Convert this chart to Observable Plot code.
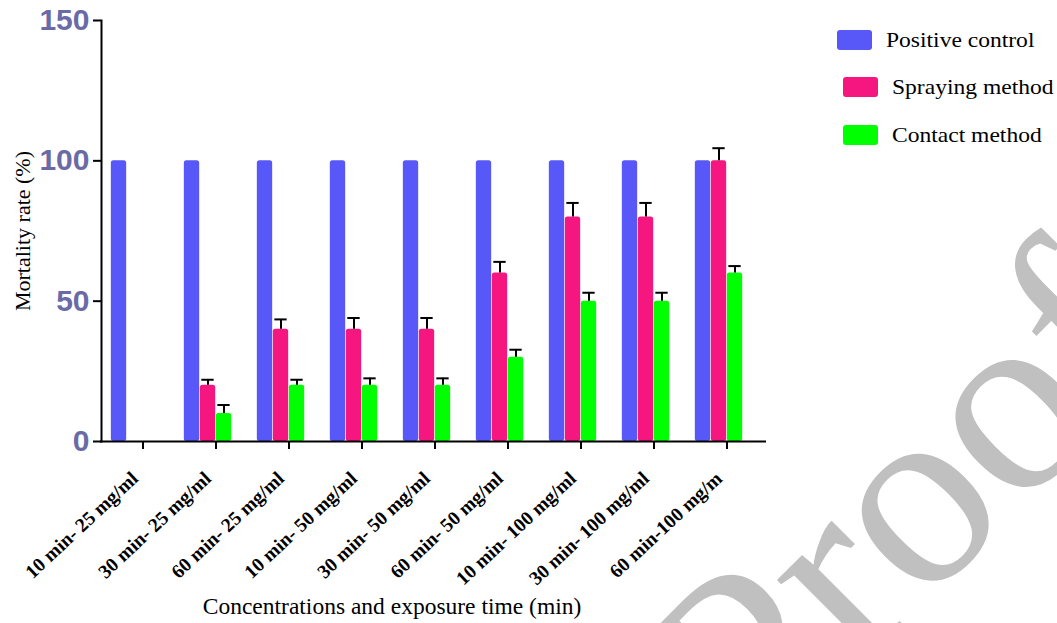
<!DOCTYPE html>
<html><head><meta charset="utf-8">
<script src="https://cdn.jsdelivr.net/npm/d3@7"></script>
<script src="https://cdn.jsdelivr.net/npm/@observablehq/plot@0.6"></script>
<style>
body{margin:0;background:#fff}
#wrap{position:relative;width:1057px;height:623px;overflow:hidden;background:#fff}
#wrap svg.plot{position:absolute;left:0;top:0}
.legend{position:absolute;left:0;top:0;font-family:"Liberation Serif",serif;font-size:22px;color:#000}
.legend .item{position:absolute;display:flex;align-items:center;white-space:nowrap}
.legend .sw{width:35px;height:20px;border-radius:3px;margin-right:14px}
.legend span{display:inline-block;transform:scaleX(1.07);transform-origin:left center}
#wm{position:absolute;left:0;top:0;pointer-events:none}
</style></head><body><div id="wrap"></div>
<script>
const categories = ["10 min- 25 mg/ml","30 min- 25 mg/ml","60 min- 25 mg/ml","10 min- 50 mg/ml","30 min- 50 mg/ml","60 min- 50 mg/ml","10 min- 100 mg/ml","30 min- 100 mg/ml","60 min-100 mg/m"];
const seriesNames = ["Positive control","Spraying method","Contact method"];
const seriesColors = ["#5858f8","#f5167f","#00ff00"];
const positiveControl = [100,100,100,100,100,100,100,100,100];
const spraying = [0,20,40,40,40,60,80,80,100];
const sprayingErr = [0,2,3.5,4,4,4,5,5,4.5];
const contact = [0,10,20,20,20,30,50,50,60];
const contactErr = [0,3,2,2.5,2.5,2.7,3,3,2.5];
const yTicks = [0,50,100,150];
const xTitle = "Concentrations and exposure time (min)";
const yTitle = "Mortality rate (%)";

const rows = (vals, errs, s) => categories.map((c,i)=>({cat:c, value:vals[i], err:errs?errs[i]:0, series:s})).filter(d=>d.value>0);
const pc = rows(positiveControl, null, seriesNames[0]);
const sp = rows(spraying, sprayingErr, seriesNames[1]);
const ct = rows(contact, contactErr, seriesNames[2]);

const W = 1057, H = 623, mL = 103, mR = 291, mT = 20, mB = 182;
const bw = (W - mL - mR) / categories.length;
const half = bw / 2;
const barW = 16;
const serif = "Liberation Serif, Times New Roman, serif";

const colorOf = d => seriesColors[seriesNames.indexOf(d.series)];

const plot = Plot.plot({
  width: W, height: H,
  marginLeft: mL, marginRight: mR, marginTop: mT, marginBottom: mB,
  style: {background: "transparent", color: "black", overflow: "visible"},
  x: {type: "band", domain: categories, padding: 0},
  y: {domain: [0, 150]},
  marks: [
    Plot.barY(pc, {x: "cat", y: "value", fill: colorOf, insetLeft: half - 2*barW, insetRight: half + barW, rx: 2.5}),
    Plot.barY(sp, {x: "cat", y: "value", fill: colorOf, insetLeft: half - barW, insetRight: half, rx: 2.5}),
    Plot.barY(ct, {x: "cat", y: "value", fill: colorOf, insetLeft: half, insetRight: half - barW, rx: 2.5}),
    Plot.ruleX(sp, {x: "cat", y1: "value", y2: d => d.value + d.err, dx: -barW/2, stroke: "black", strokeWidth: 2}),
    Plot.ruleX(ct, {x: "cat", y1: "value", y2: d => d.value + d.err, dx: barW/2, stroke: "black", strokeWidth: 2}),
    Plot.tickY(sp, {x: "cat", y: d => d.value + d.err, insetLeft: half - barW/2 - 6.5, insetRight: half + barW/2 - 6.5, stroke: "black", strokeWidth: 2}),
    Plot.tickY(ct, {x: "cat", y: d => d.value + d.err, insetLeft: half + barW/2 - 6.5, insetRight: half - barW/2 - 6.5, stroke: "black", strokeWidth: 2}),
    Plot.axisY({ticks: yTicks, tickSize: 8, tickPadding: 4, dx: -2, fontSize: 30, fontWeight: "bold", fontFamily: "Liberation Sans, Arial, sans-serif", fill: "#6a6aa6", stroke: "black", strokeWidth: 2, label: null}),
    Plot.axisX({tickSize: 8, tickFormat: () => "", stroke: "black", strokeWidth: 2, label: null}),
    Plot.frame({anchor: "left", stroke: "black", strokeWidth: 2, dx: -2}),
    Plot.ruleY([0], {stroke: "black", strokeWidth: 2, insetLeft: -3}),
    Plot.text(categories, {x: d => d, text: d => d, frameAnchor: "bottom", rotate: -43, textAnchor: "end", lineAnchor: "middle", dx: -8, dy: 34, fontWeight: "bold", fontFamily: serif, fontSize: 19.5, fill: "black"}),
    Plot.text([yTitle], {text: d => d, frameAnchor: "left", rotate: -90, textAnchor: "middle", lineAnchor: "middle", dx: -81, fontFamily: serif, fontSize: 22, fill: "black"}),
    Plot.text([xTitle], {text: d => d, frameAnchor: "bottom", textAnchor: "middle", lineAnchor: "middle", dx: -43, dy: 165, fontFamily: serif, fontSize: 23.5, fill: "black"})
  ]
});
plot.classList.add("plot");
const wrap = document.getElementById("wrap");
wrap.appendChild(plot);

// legend
const legend = document.createElement("div");
legend.className = "legend";
const legPos = [{l: 837, t: 30}, {l: 843, t: 77}, {l: 843, t: 125}];
seriesNames.forEach((n, i) => {
  const it = document.createElement("div");
  it.className = "item";
  it.style.left = legPos[i].l + "px";
  it.style.top = (legPos[i].t - 4) + "px";
  it.style.height = "28px";
  const sw = document.createElement("div");
  sw.className = "sw";
  sw.style.background = seriesColors[i];
  const tx = document.createElement("span");
  tx.textContent = n;
  it.appendChild(sw); it.appendChild(tx);
  legend.appendChild(it);
});
wrap.appendChild(legend);

// watermark
const ns = "http://www.w3.org/2000/svg";
const wm = document.createElementNS(ns, "svg");
wm.setAttribute("id", "wm"); wm.setAttribute("width", W); wm.setAttribute("height", H);
const t = document.createElementNS(ns, "text");
t.setAttribute("x", 755); t.setAttribute("y", 774);
t.setAttribute("transform", "rotate(-45 755 774)");
t.setAttribute("font-family", serif);
t.setAttribute("font-size", 265);
t.setAttribute("fill", "#c0c0c0");
t.textContent = "Proof";
wm.appendChild(t);
wrap.appendChild(wm);
</script></body></html>
